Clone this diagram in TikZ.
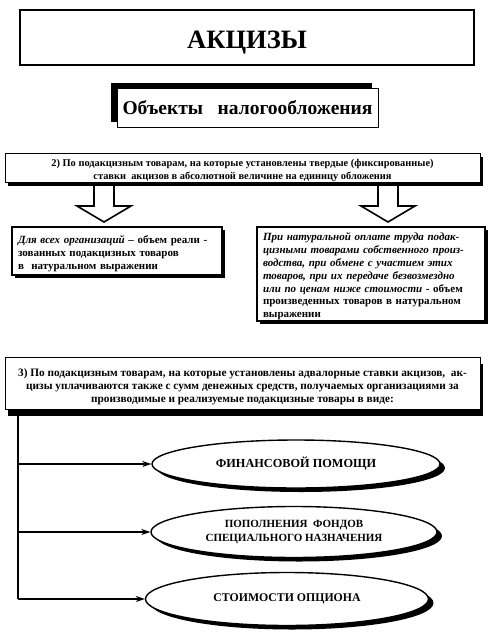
\documentclass[tikz,border=0pt]{standalone}
\usepackage{fontspec}
\setmainfont{Liberation Serif}
\usetikzlibrary{arrows.meta,shadows,shapes.geometric}
\newcommand\myBI[1]{{\bfseries\itshape #1}}
\begin{document}
\begin{tikzpicture}[x=1pt,y=-1pt,
  box/.style={draw, fill=white, inner sep=0pt, line width=1pt},
  txt/.style={inner sep=0pt, font=\bfseries\fontsize{11}{13}\selectfont},
  oval/.style={ellipse, draw, fill=white, line width=1.4pt, inner sep=0pt, align=center,
     font=\bfseries\fontsize{11.5}{13.5}\selectfont,
     general shadow={fill=black, shadow xshift=5pt, shadow yshift=-4pt}},
  hollow/.style={draw, fill=white, line width=1.6pt, line join=miter},
  arr/.style={-{Stealth[length=9pt,width=6pt]}, line width=1.2pt},
  vline/.style={line width=1.2pt}
]
\useasboundingbox (0,0) rectangle (499,635);
% hollow arrows (drawn first, box 2 covers their tops)
\draw[hollow] (94,175) -- (94,206) -- (77,206) -- (104,222) -- (131,206) -- (114,206) -- (114,175);
\draw[hollow] (378,175) -- (378,206) -- (361,206) -- (388,222) -- (415,206) -- (398,206) -- (398,175);

\node[box, line width=2.5pt, minimum width=454, minimum height=55] (title) at (247,37.5) {};
\node[txt, font=\bfseries\fontsize{26.5}{30}\selectfont] (titlet) at ([yshift=-5pt]title.center) {АКЦИЗЫ};

\node[box, minimum width=261, minimum height=39, font=\bfseries\fontsize{19.5}{23}\selectfont,
  general shadow={fill=black, shadow xshift=-6pt, shadow yshift=5pt}]
  (obj) at (247.5,107.5) {Объекты\ \ \ налогообложения};

\node[box, minimum width=475, minimum height=29,
  general shadow={fill=black, shadow xshift=3pt, shadow yshift=-4pt}] (b2) at (242.5,167.5) {};
\node[txt, align=center, font=\bfseries\fontsize{10.4}{13}\selectfont] (b2t) at ([yshift=-3pt]b2.center)
  {2) По подакцизным товарам, на которые установлены твердые (фиксированные)\\ставки\ \ акцизов в абсолютной величине на единицу обложения};

\node[box, line width=2pt, minimum width=210, minimum height=48,
  general shadow={fill=black, shadow xshift=3pt, shadow yshift=-3pt}] (bl) at (117,251) {};
\node[txt, text width=198, align=left] (blt) at ([yshift=-2.5pt]bl.center)
  {\myBI{Для всех организаций} – объем реали -\\зованных подакцизных товаров\\в\ \ натуральном выражении};

\node[box, line width=2pt, minimum width=228, minimum height=94,
  general shadow={fill=black, shadow xshift=3pt, shadow yshift=-3pt}] (br) at (371,274) {};
\node[txt, text width=216, align=left, font=\bfseries\fontsize{11}{12.8}\selectfont] (brt) at ([yshift=-2.5pt]br.center)
  {\myBI{При натуральной оплате труда подак-}\\\myBI{цизными товарами собственного произ-}\\\myBI{водства, при обмене с участием этих}\\\myBI{товаров, при их передаче безвозмездно}\\\myBI{или по ценам ниже стоимости} - объем\\произведенных товаров в натуральном\\выражении};

\node[box, minimum width=475, minimum height=52,
  general shadow={fill=black, shadow xshift=3pt, shadow yshift=-6pt}] (b3) at (242.5,383.5) {};
\node[txt, align=center, font=\bfseries\fontsize{11.3}{13}\selectfont] (b3t) at ([yshift=-3pt]b3.center)
  {3) По подакцизным товарам, на которые установлены адвалорные ставки акцизов,\ \ ак-\\цизы уплачиваются также с сумм денежных средств, получаемых организациями за\\производимые и реализуемые подакцизные товары в виде:};

\node[oval, minimum width=288, minimum height=48, font=\bfseries\fontsize{12.3}{14}\selectfont] (e1) at (296,464) {ФИНАНСОВОЙ ПОМОЩИ};
\node[oval, minimum width=286, minimum height=51, font=\bfseries\fontsize{11}{13.5}\selectfont] (e2) at (294,532) {ПОПОЛНЕНИЯ\ \ ФОНДОВ\\СПЕЦИАЛЬНОГО НАЗНАЧЕНИЯ};
\node[oval, minimum width=283, minimum height=53, font=\bfseries\fontsize{11.8}{14}\selectfont] (e3) at (287,599) {СТОИМОСТИ ОПЦИОНА};

\coordinate (v0) at (18,414);
\draw[vline] (v0) -- (v0 |- e3.west);
\draw[arr] (v0 |- e1.west) -- (e1.west);
\draw[arr] (v0 |- e2.west) -- (e2.west);
\draw[arr] (v0 |- e3.west) -- (e3.west);
\end{tikzpicture}
\end{document}
